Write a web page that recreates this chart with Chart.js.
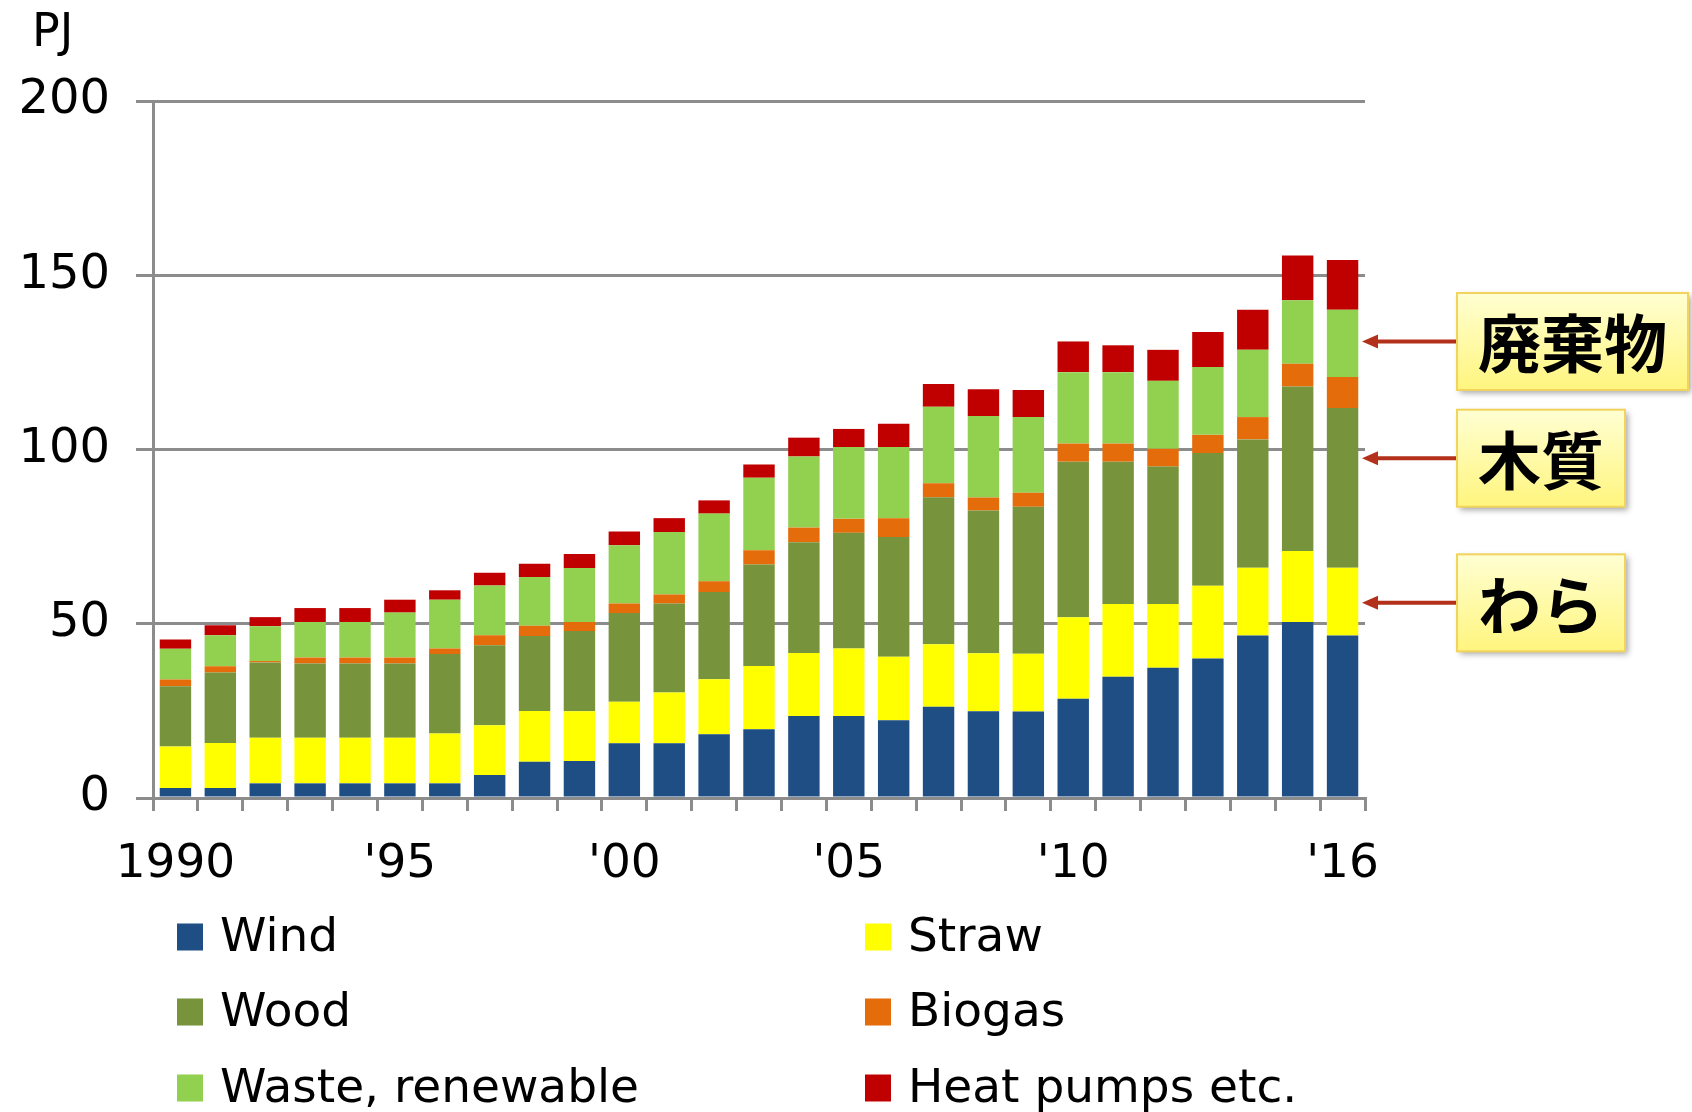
<!DOCTYPE html>
<html>
<head>
<meta charset="utf-8">
<script src="https://cdn.jsdelivr.net/npm/chart.js@4/dist/chart.umd.min.js"></script>
<style>
  html, body { margin: 0; padding: 0; background: #ffffff; }
  #wrap { width: 1692px; height: 1112px; position: relative; }
</style>
</head>
<body>
<div id="wrap"><canvas id="chart" width="1692" height="1112"></canvas></div>
<script>
// Renewable energy for heating, PJ per year, stacked by source
const years = ['1990','1991','1992','1993','1994','1995','1996','1997','1998','1999',
               '2000','2001','2002','2003','2004','2005','2006','2007','2008','2009',
               '2010','2011','2012','2013','2014','2015','2016'];
const xTickLabels = ['1990','','','','',"'95",'','','','',"'00",'','','','',"'05",'','','','',
                     "'10",'','','','','',"'16"];

const wind      = [2.9,2.9,4.2,4.2,4.2,4.2,4.2,6.6,10.4,10.6,15.7,15.7,18.3,19.7,23.5,23.5,22.3,26.2,24.9,24.8,28.5,34.8,37.4,40.0,46.6,50.5,46.6];
const straw     = [11.9,12.9,13.1,13.1,13.1,13.1,14.3,14.3,14.6,14.3,11.9,14.6,15.8,18.2,18.1,19.4,18.2,17.9,16.6,16.6,23.4,20.9,18.3,20.9,19.5,20.4,19.5];
const wood      = [17.3,20.2,21.6,21.3,21.3,21.3,22.8,22.9,21.5,23.0,25.5,25.5,25.0,29.1,31.8,33.2,34.4,42.2,41.0,42.2,44.6,40.8,39.4,38.1,36.8,47.2,45.8];
const biogas    = [1.9,1.8,0.4,1.7,1.7,1.7,1.6,2.9,2.9,2.6,2.7,2.6,3.1,4.1,4.2,4.0,5.4,4.0,3.7,4.0,5.2,5.2,5.1,5.2,6.4,6.5,8.9];
const waste     = [8.8,8.9,10.0,10.2,10.2,12.9,14.0,14.3,14.0,15.5,16.7,17.9,19.4,20.8,20.4,20.6,20.4,22.0,23.4,21.7,20.5,20.5,19.5,19.5,19.3,18.2,19.3];
const heatPumps = [2.7,2.9,2.6,4.0,4.0,3.7,2.7,3.6,3.8,4.0,4.0,4.0,3.8,3.8,5.4,5.2,6.7,6.5,7.7,7.8,8.8,7.7,8.9,10.0,11.5,12.9,14.3];

const seriesNames  = ['Wind','Straw','Wood','Biogas','Waste, renewable','Heat pumps etc.'];
const seriesColors = ['#1f4e85','#ffff00','#77933c','#e46c0a','#92d050','#c00000'];

// Japanese callouts beside the 2016 bar, with the value each arrow points at
const calloutLabels = ['廃棄物','木質','わら'];
const calloutValues = [131, 97.5, 56];

const unitLabel = 'PJ';

const TICK_FONT = "'DejaVu Sans', Verdana, sans-serif";
const GRID = '#8c8c8c';

const seriesData = [wind, straw, wood, biogas, waste, heatPumps];

const datasets = seriesData.map((arr, i) => ({
  label: seriesNames[i],
  data: arr,
  backgroundColor: seriesColors[i],
  borderWidth: 0,
  categoryPercentage: 1.0,
  barPercentage: 0.7
}));

// Two-column legend under the axis, filled row by row
const gridLegend = {
  id: 'gridLegend',
  afterDraw(chart, args, opts) {
    const ctx = chart.ctx;
    ctx.save();
    ctx.font = `${opts.fontSize}px ${TICK_FONT}`;
    ctx.textBaseline = 'middle';
    ctx.textAlign = 'left';
    chart.data.datasets.forEach((ds, i) => {
      const col = i % 2, row = Math.floor(i / 2);
      const x = opts.columns[col];
      const cy = opts.rows[row];
      ctx.fillStyle = ds.backgroundColor;
      ctx.fillRect(x, cy - opts.box / 2, opts.box - 1, opts.box);
      ctx.fillStyle = '#000';
      ctx.fillText(ds.label, x + opts.textGap, cy + 2);
    });
    ctx.restore();
  }
};

// Unit label above the value axis
const unitTitle = {
  id: 'unitTitle',
  afterDraw(chart) {
    const ctx = chart.ctx;
    ctx.save();
    ctx.font = `46px ${TICK_FONT}`;
    ctx.fillStyle = '#000';
    ctx.textBaseline = 'alphabetic';
    ctx.textAlign = 'left';
    ctx.fillText(unitLabel, 32, 46);
    ctx.restore();
  }
};

// Boxed labels with arrows pointing into the last bar
const callouts = {
  id: 'callouts',
  afterDraw(chart, args, opts) {
    const ctx = chart.ctx;
    const y = chart.scales.y;
    const area = chart.chartArea;
    ctx.save();
    ctx.font = `bold ${opts.fontSize}px 'Noto Sans CJK JP', sans-serif`;
    calloutLabels.forEach((txt, i) => {
      const cy = y.getPixelForValue(calloutValues[i]);
      const tw = ctx.measureText(txt).width;
      const bw = tw + opts.padX * 2;
      const bh = opts.boxHeight;
      const bx = opts.boxLeft;
      const by = cy - bh / 2;

      // arrow
      const tipX = area.right - 3;
      ctx.strokeStyle = opts.arrowColor;
      ctx.fillStyle = opts.arrowColor;
      ctx.lineWidth = 4;
      ctx.beginPath();
      ctx.moveTo(bx, cy);
      ctx.lineTo(tipX + 12, cy);
      ctx.stroke();
      ctx.beginPath();
      ctx.moveTo(tipX, cy);
      ctx.lineTo(tipX + 16, cy - 7);
      ctx.lineTo(tipX + 16, cy + 7);
      ctx.closePath();
      ctx.fill();

      // box with soft shadow
      ctx.save();
      ctx.shadowColor = 'rgba(0,0,0,0.35)';
      ctx.shadowBlur = 6;
      ctx.shadowOffsetX = 3;
      ctx.shadowOffsetY = 3;
      const g = ctx.createLinearGradient(0, by, 0, by + bh);
      g.addColorStop(0, '#ffffd2');
      g.addColorStop(1, '#fff57e');
      ctx.fillStyle = g;
      ctx.fillRect(bx, by, bw, bh);
      ctx.restore();
      ctx.strokeStyle = '#f2d45c';
      ctx.lineWidth = 2;
      ctx.strokeRect(bx, by, bw, bh);

      ctx.fillStyle = '#000';
      ctx.textAlign = 'left';
      ctx.textBaseline = 'middle';
      ctx.fillText(txt, bx + opts.padX, cy + 2);
    });
    ctx.restore();
  }
};

new Chart(document.getElementById('chart'), {
  type: 'bar',
  data: { labels: years, datasets },
  plugins: [gridLegend, unitTitle, callouts],
  options: {
    responsive: false,
    animation: false,
    layout: { padding: { top: 101, right: 327, bottom: 234, left: 0 } },
    plugins: {
      legend: { display: false },
      tooltip: { enabled: false },
      gridLegend: { columns: [177, 865], rows: [937, 1012, 1088], box: 27, textGap: 43, fontSize: 47 },
      callouts: { fontSize: 63, padX: 21, boxHeight: 97, boxLeft: 1457, arrowColor: '#b3301a' }
    },
    scales: {
      x: {
        stacked: true,
        afterFit(s) { s.height = 80; },
        grid: { offset: true, drawOnChartArea: false, drawTicks: true, tickLength: 13, color: GRID, lineWidth: 3 },
        border: { display: true, color: GRID, width: 3 },
        ticks: {
          autoSkip: false, maxRotation: 0, minRotation: 0,
          padding: 26,
          color: '#000',
          font: { size: 47, family: TICK_FONT },
          callback: (v, i) => xTickLabels[i]
        }
      },
      y: {
        stacked: true,
        min: 0, max: 200,
        afterFit(s) { s.width = 153; },
        grid: { color: GRID, lineWidth: 3, tickLength: 17 },
        border: { display: true, color: GRID, width: 3 },
        ticks: {
          stepSize: 50,
          padding: 26,
          color: '#000',
          font: { size: 48, family: TICK_FONT }
        }
      }
    }
  }
});
</script>
</body>
</html>
